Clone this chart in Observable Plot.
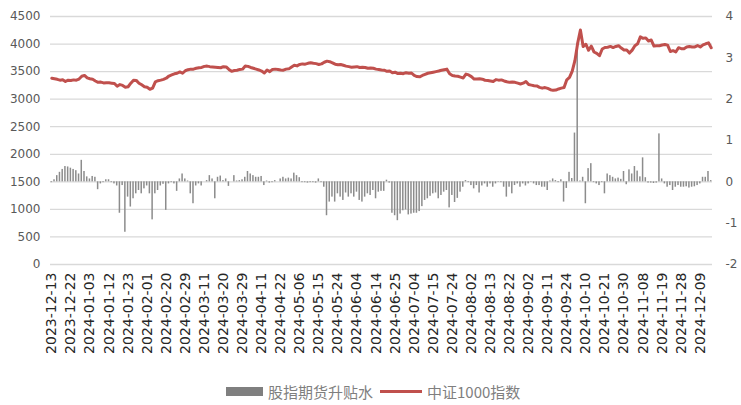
<!DOCTYPE html>
<html><head><meta charset="utf-8">
<script src="https://cdn.jsdelivr.net/npm/d3@7"></script>
<script src="https://cdn.jsdelivr.net/npm/@observablehq/plot@0.6"></script>
<style>
body{margin:0;background:#fff;font-family:"DejaVu Sans",sans-serif;}
#wrap{position:relative;width:741px;height:405px;}
#legend{position:absolute;top:381px;left:226px;display:flex;align-items:center;font-family:"Noto Sans CJK SC",sans-serif;font-size:15px;color:#7f7f7f;white-space:nowrap;}
#legend .sw1{width:37px;height:9px;background:#7f7f7f;margin-right:5px;}
#legend .sw2{width:42px;height:3px;background:#c0504d;margin-left:7px;margin-right:5px;}
</style></head><body>
<div id="wrap"><div id="chart"></div>
<div id="legend"><span class="sw1"></span><span>股指期货升贴水</span><span class="sw2"></span><span>中证1000指数</span></div></div>
<script>
// trading-day calendar
const holidays = ["2024-01-01","2024-02-09","2024-02-12","2024-02-13","2024-02-14","2024-02-15","2024-02-16",
  "2024-04-04","2024-04-05","2024-05-01","2024-05-02","2024-05-03","2024-06-10","2024-09-16","2024-09-17",
  "2024-10-01","2024-10-02","2024-10-03","2024-10-04","2024-10-07"];
const tickLabels = ["2023-12-13","2023-12-22","2024-01-03","2024-01-12","2024-01-23","2024-02-01","2024-02-20",
  "2024-02-29","2024-03-11","2024-03-20","2024-03-29","2024-04-11","2024-04-22","2024-05-06","2024-05-15",
  "2024-05-24","2024-06-04","2024-06-14","2024-06-25","2024-07-04","2024-07-15","2024-07-24","2024-08-02",
  "2024-08-13","2024-08-22","2024-09-02","2024-09-11","2024-09-24","2024-10-10","2024-10-21","2024-10-30",
  "2024-11-08","2024-11-19","2024-11-28","2024-12-09"];
const leftTicks = [0,500,1000,1500,2000,2500,3000,3500,4000,4500];
const rightTicks = [-2,-1,0,1,2,3,4];

// 中证1000指数 (left axis)
const indexValues = [
 3380,3370,3360,3345,3352,3320,3345,3340,3350,3345,3365,3415,3431,
 3386,3370,3360,3330,3305,3310,3295,3300,3296,3290,3285,3235,3265,3250,3218,3225,3290,3345,3340,3290,3260,3225,
 3215,3180,3200,3315,3335,3345,3360,3380,3420,3440,3460,3470,3495,3470,3516,
 3535,3545,3545,3560,3570,3575,3595,3600,3590,3585,3580,3575,3570,3590,3585,3540,3505,3520,3525,3540,3545,
 3600,3595,3575,3560,3545,3530,3510,3475,3530,3500,3540,3545,3540,3530,3525,3545,3550,3585,3615,3604,
 3630,3640,3635,3650,3660,3650,3645,3630,3640,3670,3690,3680,3660,3635,3625,3630,3615,3600,3590,3580,
 3585,3590,3575,3580,3575,3560,3565,3560,3545,3540,3530,3525,3505,3510,3480,3490,3465,3470,3462,
 3480,3470,3475,3430,3410,3405,3430,3450,3470,3480,3490,3500,3510,3525,3535,3545,3460,3430,3420,3415,3400,3385,3455,
 3440,3409,3365,3365,3370,3362,3343,3340,3330,3320,3355,3345,3350,3330,3315,3305,3310,3305,3290,3275,3290,3321,
 3265,3255,3245,3240,3215,3200,3210,3195,3172,3160,3165,3185,3200,3210,3351,3395,3510,3703,4017,
 4256,3955,3997,3887,3961,3856,3831,3788,3910,3937,3943,3957,3936,3956,3970,3928,3892,3891,
 3837,3890,3970,4005,4130,4104,4112,4056,4073,3963,3968,3970,3984,3991,3980,3865,3880,3857,3934,3916,3916,
 3947,3955,3945,3948,3973,3947,3985,4005,4022,3933];

// 股指期货升贴水 (right axis)
const basisValues = [
 -0.02,0.05,0.15,0.23,0.30,0.37,0.36,0.33,0.30,0.27,0.19,0.52,0.25,0.12,0.07,0.13,0.11,-0.19,
 -0.05,-0.02,0.05,0.05,-0.02,-0.05,-0.10,-0.76,-0.09,-1.22,
 -0.37,-0.61,-0.41,-0.29,-0.21,-0.29,-0.17,-0.10,-0.29,-0.92,-0.29,-0.21,-0.10,-0.06,-0.69,
 -0.05,-0.02,-0.05,-0.23,0.07,0.19,0.07,0.02,-0.29,-0.53,-0.10,-0.05,-0.10,0.00,0.03,0.15,0.07,-0.41,
 0.11,0.14,0.03,0.07,-0.11,0.00,0.15,0.02,0.03,0.05,
 0.11,0.25,0.19,0.15,0.11,0.11,0.13,-0.09,0.02,-0.03,
 -0.02,0.03,0.00,0.07,0.11,0.07,0.09,0.07,0.21,0.15,
 0.10,-0.02,-0.02,-0.03,-0.02,-0.02,-0.03,0.07,-0.02,-0.13,-0.82,
 -0.49,-0.37,-0.49,-0.29,-0.37,-0.45,-0.27,-0.37,-0.29,-0.37,-0.25,-0.45,-0.49,-0.37,-0.29,-0.33,-0.21,-0.41,-0.25,-0.23,-0.23,
 0.04,-0.03,
 -0.76,-0.82,-0.94,-0.78,-0.70,-0.68,-0.80,-0.78,-0.76,-0.76,
 -0.72,-0.60,-0.45,-0.41,-0.35,-0.29,-0.27,-0.41,-0.33,-0.25,
 -0.21,-0.63,-0.33,-0.50,-0.40,-0.25,-0.13,0.03,
 -0.02,-0.09,-0.17,-0.09,-0.27,-0.10,-0.05,-0.13,-0.05,-0.13,
 -0.05,-0.01,-0.02,-0.13,-0.37,-0.13,-0.29,-0.09,-0.05,-0.13,
 -0.05,-0.10,-0.05,-0.01,-0.05,-0.09,-0.09,-0.13,-0.13,-0.21,
 0.02,0.07,0.03,-0.02,0.05,
 -0.49,-0.16,0.23,0.08,1.18,3.35,0.02,0.11,-0.53,0.32,0.44,-0.02,-0.05,-0.09,-0.02,-0.29,
 0.19,0.15,0.11,0.07,0.09,0.06,0.25,-0.07,0.29,0.19,0.37,0.26,0.12,0.58,0.10,-0.03,-0.03,-0.04,-0.03,1.16,
 0.07,-0.05,-0.13,-0.09,-0.21,-0.13,-0.09,-0.13,-0.13,-0.12,-0.15,-0.13,-0.12,-0.09,-0.05,0.11,0.11,0.25,0.03];

const dates = [];
for (let t = Date.UTC(2023, 11, 13); t <= Date.UTC(2024, 11, 13); t += 86400000) {
  const d = new Date(t), dow = d.getUTCDay(), s = d.toISOString().slice(0, 10);
  if (dow !== 0 && dow !== 6 && !holidays.includes(s)) dates.push(s);
}
const n = Math.min(dates.length, indexValues.length, basisValues.length);
const data = d3.range(n).map(i => ({date: dates[i], index: indexValues[i], basis: basisValues[i]}));

// right axis (-2..4) mapped onto left axis (0..4500)
const toLeft = v => 1500 + 750 * v;
const toRight = v => (v - 1500) / 750;

const chart = Plot.plot({
  width: 741, height: 372,
  marginTop: 16, marginBottom: 108, marginLeft: 50, marginRight: 29,
  style: {fontFamily: "DejaVu Sans, sans-serif", background: "#fff"},
  x: {type: "band", domain: dates.slice(0, n), paddingInner: 0.45, paddingOuter: 0.2, axis: null},
  y: {domain: [0, 4500], axis: null},
  marks: [
    Plot.gridY(leftTicks, {stroke: "#d9d9d9", strokeOpacity: 1, strokeWidth: 1.3}),
    Plot.barY(data, {x: "date", y1: 1500, y2: d => toLeft(d.basis), fill: "#8c8c8c"}),
    Plot.line(data, {x: "date", y: "index", stroke: "#c0504d", strokeWidth: 3, curve: "linear"}),
    Plot.axisY(leftTicks, {anchor: "left", tickSize: 0, tickPadding: 10, fontSize: 12, color: "#595959", label: null,
      tickFormat: d => String(d)}),
    Plot.axisY(rightTicks.map(toLeft), {anchor: "right", tickSize: 0, tickPadding: 13, fontSize: 12, color: "#595959",
      tickFormat: d => String(Math.round(toRight(d))), label: null}),
    Plot.axisX(tickLabels, {anchor: "bottom", tickSize: 0, tickPadding: 8, tickRotate: -90, fontSize: 14, color: "#262626", label: null})
  ]
});
document.getElementById("chart").appendChild(chart);
</script>
</body></html>
